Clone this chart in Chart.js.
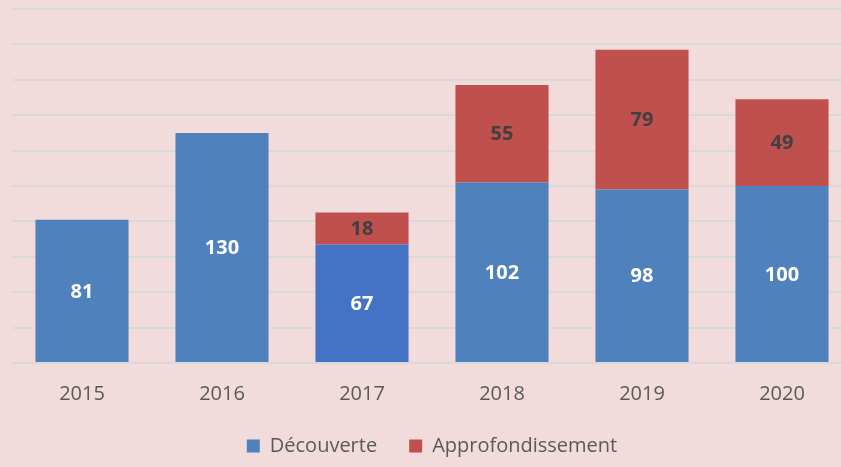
<!DOCTYPE html>
<html>
<head>
<meta charset="utf-8">
<script src="https://cdn.jsdelivr.net/npm/chart.js@4"></script>
<style>
    html, body { margin: 0; padding: 0; background: #f2dcdb; overflow: hidden; }
    #wrap { position: absolute; left: 0; top: 0; width: 860px; height: 467px; }
</style>
</head>
<body>
<div id="wrap"><canvas id="chart"></canvas></div>
<script>
const years = ['2015', '2016', '2017', '2018', '2019', '2020'];
const decouverte = [81, 130, 67, 102, 98, 100];
const approfondissement = [null, null, 18, 55, 79, 49];
const decouverteColors = ['#4f81bd', '#4f81bd', '#4472c4', '#4f81bd', '#4f81bd', '#4f81bd'];

const textGray = '#595959';
const fontFamily = '"Open Sans", sans-serif';

// draws the value in the middle of each bar segment
const barLabels = {
    id: 'barLabels',
    afterDatasetsDraw(chart) {
        const ctx = chart.ctx;
        ctx.save();
        ctx.font = 'bold 20px ' + fontFamily;
        ctx.textAlign = 'center';
        ctx.textBaseline = 'middle';
        chart.data.datasets.forEach((ds, i) => {
            const meta = chart.getDatasetMeta(i);
            meta.data.forEach((bar, j) => {
                const v = ds.data[j];
                if (v == null) return;
                ctx.fillStyle = ds.labelColor;
                ctx.fillText(String(v), bar.x, (bar.y + bar.base) / 2 + 1);
            });
        });
        ctx.restore();
    }
};

document.addEventListener('DOMContentLoaded', function () {
    const ctx = document.getElementById('chart').getContext('2d');
    new Chart(ctx, {
        type: 'bar',
        data: {
            labels: years,
            datasets: [{
                label: 'Découverte',
                data: decouverte,
                backgroundColor: decouverteColors,
                labelColor: '#ffffff',
                categoryPercentage: 1,
                barPercentage: 0.665
            }, {
                label: 'Approfondissement',
                data: approfondissement,
                backgroundColor: '#c0504d',
                labelColor: '#404040',
                categoryPercentage: 1,
                barPercentage: 0.665
            }]
        },
        options: {
            responsive: true,
            maintainAspectRatio: false,
            animation: false,
            layout: { padding: { left: 12, right: 8, top: 9, bottom: 1 } },
            scales: {
                x: {
                    stacked: true,
                    grid: { display: false },
                    border: { display: false },
                    ticks: { color: textGray, font: { family: fontFamily, size: 20 }, padding: 11 },
                    afterFit: function (scale) { scale.height -= 13; }
                },
                y: {
                    stacked: true,
                    min: 0,
                    max: 200,
                    ticks: { stepSize: 20, display: false },
                    grid: { color: '#d9d9d9', lineWidth: 2, drawTicks: false },
                    border: { display: false }
                }
            },
            plugins: {
                legend: {
                    position: 'bottom',
                    labels: {
                        color: textGray,
                        font: { family: fontFamily, size: 20 },
                        boxWidth: 13,
                        boxHeight: 13,
                        padding: 32,
                        generateLabels: function (chart) {
                            return chart.data.datasets.map((ds, i) => ({
                                text: ds.label,
                                fillStyle: i === 0 ? '#4f81bd' : '#c0504d',
                                strokeStyle: 'transparent',
                                lineWidth: 0,
                                fontColor: textGray,
                                datasetIndex: i
                            }));
                        }
                    }
                },
                tooltip: { enabled: false }
            }
        },
        plugins: [barLabels]
    });
});
</script>
</body>
</html>
